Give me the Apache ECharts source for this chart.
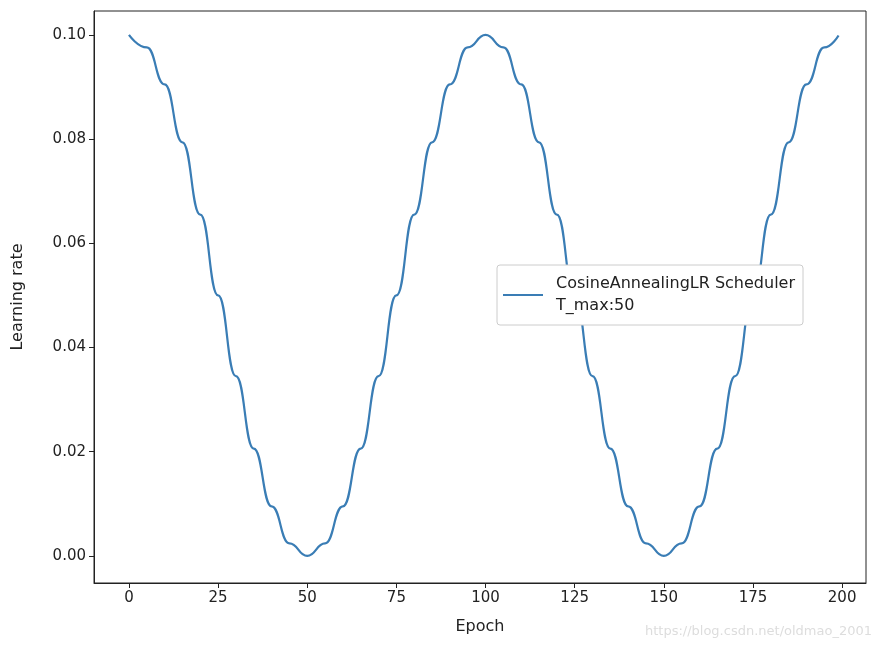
<!DOCTYPE html>
<html><head><meta charset="utf-8">
<script src="https://cdn.jsdelivr.net/npm/echarts@6/dist/echarts.min.js"></script>
<style>html,body{margin:0;background:#fff}#c{width:882px;height:646px}</style>
</head><body><div id="c"></div>
<script>
const epochs = [0,5,10,15,20,25,30,35,40,45,50,55,60,65,70,75,80,85,90,95,100,105,110,115,120,125,130,135,140,145,150,155,160,165,170,175,180,185,190,195,199];
const lr = [0.1,0.0976,0.0905,0.0794,0.0655,0.05,0.0345,0.0206,0.0095,0.0024,0,0.0024,0.0095,0.0206,0.0345,0.05,0.0655,0.0794,0.0905,0.0976,0.1,0.0976,0.0905,0.0794,0.0655,0.05,0.0345,0.0206,0.0095,0.0024,0,0.0024,0.0095,0.0206,0.0345,0.05,0.0655,0.0794,0.0905,0.0976,0.0999];
const xTicks = [0,25,50,75,100,125,150,175,200];
const yTicks = [0,0.02,0.04,0.06,0.08,0.1];
const seriesName = 'CosineAnnealingLR Scheduler\nT_max:50';
const font = 'DejaVu Sans';
const chart = echarts.init(document.getElementById('c'));
chart.setOption({
  animation:false,
  grid:{left:94,right:16,top:11,bottom:63},
  legend:{data:[seriesName],left:497,top:265,orient:'vertical',backgroundColor:'#fff',borderColor:'#ccc',borderWidth:1,borderRadius:3,padding:[8,8,8,6],itemWidth:40,itemHeight:2,icon:'rect',textStyle:{fontFamily:font,fontSize:16,color:'#222',lineHeight:22,padding:[0,0,0,8]}},
  xAxis:{type:'value',min:-9.8,max:206.7,name:'Epoch',nameLocation:'middle',nameGap:36,nameTextStyle:{fontFamily:font,fontSize:16,color:'#222'},
    axisLine:{onZero:false,lineStyle:{color:'#222'}},splitLine:{show:false},
    axisLabel:{fontFamily:font,fontSize:15,color:'#222',customValues:xTicks},
    axisTick:{show:true,customValues:xTicks,lineStyle:{color:'#222'}}},
  yAxis:{type:'value',min:-0.0052,max:0.1046,name:'Learning rate',nameLocation:'middle',nameGap:68,nameTextStyle:{fontFamily:font,fontSize:16,color:'#222'},
    axisLine:{show:true,onZero:false,lineStyle:{color:'#222'}},splitLine:{show:false},
    axisLabel:{fontFamily:font,fontSize:15,color:'#222',customValues:yTicks,formatter:v=>v.toFixed(2)},
    axisTick:{show:true,customValues:yTicks,lineStyle:{color:'#222'}}},
  series:[{name:seriesName,type:'line',data:epochs.map((e,i)=>[e,lr[i]]),smooth:0.5,smoothMonotone:'x',showSymbol:false,lineStyle:{color:'#3a7db5',width:2.2},itemStyle:{color:'#3a7db5'}}],
  graphic:[{type:'rect',shape:{x:94,y:11,width:772,height:572},style:{fill:'none',stroke:'#222',lineWidth:1},silent:true},
   {type:'text',right:10,bottom:8,style:{text:'https://blog.csdn.net/oldmao_2001',fontFamily:font,fontSize:13,fill:'#ddd'}}]
});
</script></body></html>
